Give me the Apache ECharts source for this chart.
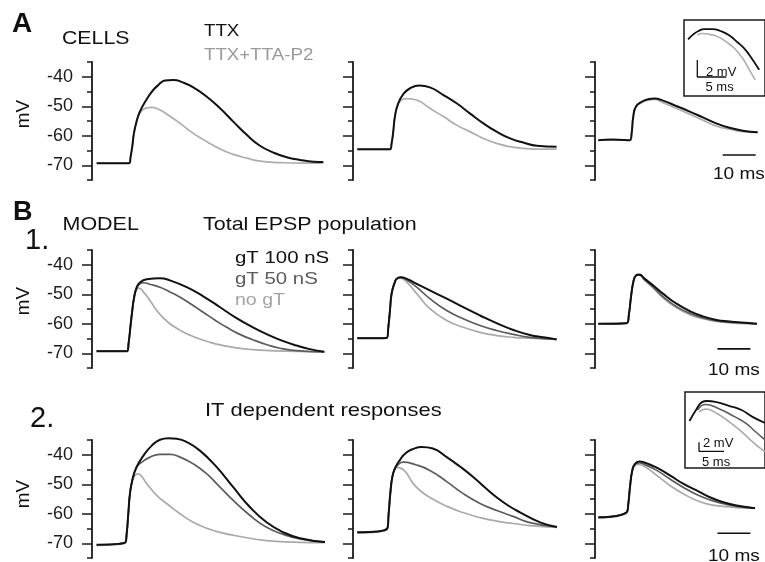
<!DOCTYPE html>
<html><head><meta charset="utf-8">
<script src="https://cdn.jsdelivr.net/npm/echarts@6/dist/echarts.min.js"></script>
<style>html,body{margin:0;padding:0;background:#fff}#c{width:765px;height:562px}</style>
</head><body><div id="c"></div>
<script>
// ---------- axis values ----------
const yMin = -75, yMax = -35, yStep = 5;
const majorTicks = [-70, -60, -50, -40];
const timeMax = [71, 62, 51];            // ms shown per column

// ---------- A: CELLS (t ms, mV) ----------
const cellsTTX_1 = [[1.4,-69.3],[11.3,-69.3],[11.7,-67.1],[12.2,-63.7],[12.7,-59.2],[13.5,-55.2],[14.5,-51.8],[16.1,-48.5],[18.1,-45.1],[20.1,-42.8],[22.1,-41.3],[24.6,-41.1],[27.7,-42.0],[30.7,-43.6],[34.8,-46.8],[38.8,-50.7],[42.8,-55.2],[46.9,-59.7],[50.9,-63.4],[55.0,-65.7],[59.0,-67.3],[63.0,-68.2],[67.1,-68.8],[70.1,-68.9]];
const cellsTTA_1 = [[1.4,-69.3],[11.3,-69.3],[11.7,-67.1],[12.2,-63.7],[12.7,-59.2],[13.5,-55.2],[14.5,-52.4],[16.1,-50.7],[18.1,-50.4],[20.1,-51.0],[22.6,-52.6],[26.7,-55.8],[30.7,-59.2],[34.8,-62.0],[38.8,-64.5],[42.8,-66.3],[46.9,-67.6],[50.9,-68.6],[57.0,-69.1],[63.0,-69.3],[70.1,-69.3]];
const cellsTTX_2 = [[1.3,-64.6],[11.2,-64.6],[11.7,-62.6],[12.2,-58.6],[12.7,-53.5],[13.7,-49.0],[15.3,-45.8],[17.3,-43.9],[20.1,-43.0],[23.3,-43.6],[27.4,-46.2],[31.4,-49.0],[35.4,-52.4],[39.5,-55.8],[43.5,-58.6],[47.6,-60.9],[51.6,-62.3],[55.7,-63.4],[61.7,-63.7]];
const cellsTTA_2 = [[1.3,-64.6],[11.2,-64.6],[11.7,-62.6],[12.2,-58.6],[12.7,-53.5],[13.7,-49.3],[14.8,-47.8],[16.2,-47.4],[19.3,-47.9],[23.3,-50.7],[27.4,-53.5],[31.4,-56.4],[35.4,-58.6],[39.5,-60.9],[43.5,-62.6],[47.6,-63.7],[51.6,-64.3],[55.7,-64.5],[61.7,-64.5]];
const cellsTTX_3 = [[1.0,-61.5],[5.0,-61.3],[10.6,-61.5],[11.1,-59.2],[11.6,-53.5],[12.4,-50.1],[14.1,-48.5],[16.1,-47.6],[18.1,-47.4],[20.6,-48.1],[24.6,-49.9],[28.7,-51.8],[32.7,-53.8],[36.7,-55.8],[40.8,-57.3],[44.8,-58.3],[49.3,-58.8]];
const cellsTTA_3 = [[1.0,-61.5],[10.6,-61.5],[11.1,-59.2],[11.6,-53.5],[12.4,-50.3],[14.1,-48.8],[16.1,-47.9],[18.1,-47.7],[20.6,-48.8],[24.6,-50.7],[28.7,-52.7],[32.7,-54.7],[36.7,-56.7],[40.8,-57.8],[44.8,-58.6],[49.3,-58.9]];

// ---------- B1: Total EPSP population ----------
const totGT100_1 = [[1.4,-69.3],[10.6,-69.3],[11.1,-66.5],[11.6,-61.5],[12.1,-56.5],[12.7,-51.5],[13.5,-47.8],[14.6,-45.9],[16.6,-44.9],[20.6,-44.6],[23.6,-45.3],[28.7,-47.6],[33.7,-50.7],[38.8,-54.4],[43.8,-58.1],[48.9,-61.3],[53.9,-64.0],[58.0,-65.9],[62.0,-67.4],[66.0,-68.6],[70.4,-69.5]];
const totGT50_1 = [[1.4,-69.3],[10.6,-69.3],[11.1,-66.5],[11.6,-61.5],[12.1,-56.5],[12.7,-51.5],[13.5,-47.9],[14.6,-46.4],[15.6,-46.1],[17.6,-46.6],[20.6,-47.6],[23.6,-49.2],[26.7,-51.0],[30.2,-53.5],[33.7,-56.1],[37.3,-58.8],[40.8,-61.2],[44.8,-63.6],[48.9,-65.5],[53.0,-67.1],[57.0,-68.3],[63.0,-69.2],[70.4,-69.5]];
const totGT0_1 = [[1.4,-69.3],[10.6,-69.3],[11.1,-66.5],[11.6,-61.5],[12.1,-56.5],[12.7,-51.5],[13.3,-49.0],[14.0,-47.9],[14.8,-48.2],[15.7,-49.4],[16.6,-50.6],[18.1,-53.0],[19.6,-55.5],[21.6,-58.0],[23.6,-60.0],[26.2,-61.9],[28.7,-63.4],[32.2,-65.0],[35.8,-66.3],[39.8,-67.4],[43.8,-68.2],[48.9,-68.8],[53.9,-69.1],[62.0,-69.4],[70.4,-69.5]];
const totGT100_2 = [[1.3,-64.9],[10.2,-64.8],[10.7,-61.2],[11.2,-55.5],[11.7,-49.8],[12.5,-46.5],[13.2,-44.8],[14.4,-44.2],[16.3,-44.8],[19.3,-46.5],[23.3,-48.7],[28.4,-51.5],[33.4,-54.4],[38.5,-57.2],[43.5,-59.8],[48.6,-62.1],[53.6,-63.8],[57.7,-64.6],[61.7,-65.3]];
const totGT50_2 = [[1.3,-64.9],[10.2,-64.8],[10.7,-61.2],[11.2,-55.5],[11.7,-49.8],[12.5,-46.5],[13.2,-44.8],[14.4,-44.3],[16.3,-45.2],[19.3,-47.6],[23.3,-51.5],[28.4,-55.5],[33.4,-58.3],[38.5,-60.6],[43.5,-62.3],[48.6,-63.6],[53.6,-64.6],[61.7,-65.3]];
const totGT0_2 = [[1.3,-64.9],[10.2,-64.8],[10.7,-61.2],[11.2,-55.5],[11.7,-49.8],[12.5,-46.5],[13.2,-44.9],[14.4,-44.5],[16.3,-45.9],[19.3,-49.8],[23.3,-54.9],[28.4,-58.9],[33.4,-61.2],[38.5,-62.9],[43.5,-64.0],[48.6,-64.6],[53.6,-64.9],[61.7,-65.3]];
const totGT100_3 = [[1.0,-60.0],[9.6,-59.8],[10.3,-56.6],[10.9,-51.0],[11.6,-45.9],[12.4,-43.6],[13.4,-43.3],[15.1,-44.8],[17.6,-47.0],[20.6,-49.8],[24.7,-53.2],[28.7,-55.7],[32.7,-57.5],[36.8,-58.7],[40.8,-59.2],[44.8,-59.6],[49.1,-60.0]];
const totGT50_3 = [[1.0,-60.0],[9.6,-59.8],[10.3,-56.6],[10.9,-51.0],[11.6,-45.9],[12.4,-43.7],[13.4,-43.4],[15.1,-45.1],[17.6,-47.5],[20.6,-50.8],[24.7,-54.2],[28.7,-56.4],[32.7,-58.0],[36.8,-59.0],[40.8,-59.5],[49.1,-60.0]];
const totGT0_3 = [[1.0,-60.0],[9.6,-59.8],[10.3,-56.6],[10.9,-51.0],[11.6,-45.9],[12.4,-43.8],[13.4,-43.5],[15.1,-45.4],[17.6,-47.9],[20.6,-51.2],[24.7,-54.6],[28.7,-56.9],[32.7,-58.3],[36.8,-59.2],[40.8,-59.7],[49.1,-60.1]];

// ---------- B2: IT dependent responses ----------
const itGT100_1 = [[1.4,-70.5],[10.0,-69.8],[10.5,-66.8],[11.0,-60.0],[11.5,-53.2],[12.2,-48.7],[13.5,-44.2],[15.6,-40.3],[18.1,-36.9],[20.6,-34.9],[23.2,-34.4],[25.7,-34.6],[28.7,-35.7],[32.7,-38.6],[37.8,-44.2],[42.8,-51.0],[47.9,-57.8],[52.9,-62.9],[58.0,-66.3],[63.0,-68.3],[70.6,-69.6]];
const itGT50_1 = [[1.4,-70.5],[10.0,-69.8],[10.5,-66.8],[11.0,-60.0],[11.5,-53.2],[12.2,-48.7],[13.5,-44.2],[15.1,-42.5],[17.6,-40.8],[20.6,-39.9],[23.7,-39.9],[26.7,-40.8],[30.7,-43.1],[34.8,-46.5],[38.8,-51.0],[42.8,-55.5],[47.9,-60.6],[52.9,-64.6],[58.0,-67.0],[63.0,-68.5],[70.6,-69.6]];
const itGT0_1 = [[1.4,-70.7],[10.0,-70.0],[10.5,-66.8],[11.0,-60.0],[11.5,-53.2],[12.2,-49.0],[13.0,-47.0],[14.0,-46.5],[15.2,-47.6],[16.6,-49.8],[19.6,-53.8],[22.7,-56.6],[26.7,-60.0],[30.7,-62.9],[34.8,-64.9],[38.8,-66.3],[44.9,-67.7],[52.9,-69.1],[61.0,-69.6],[70.6,-69.8]];
const itGT100_2 = [[1.3,-66.3],[10.3,-65.1],[10.8,-60.0],[11.3,-53.2],[11.9,-47.6],[12.7,-44.6],[14.2,-41.8],[16.0,-39.4],[18.3,-38.0],[20.8,-37.4],[24.2,-37.9],[28.4,-40.8],[32.4,-44.0],[36.5,-47.6],[40.0,-51.1],[43.5,-54.4],[47.0,-57.2],[50.6,-59.5],[56.7,-62.9],[61.8,-64.5]];
const itGT50_2 = [[1.3,-66.3],[10.3,-65.1],[10.8,-60.0],[11.3,-53.2],[11.9,-47.6],[12.7,-44.8],[13.6,-43.4],[15.2,-42.5],[18.8,-43.3],[23.3,-45.3],[28.4,-49.1],[33.3,-53.1],[38.5,-56.5],[43.6,-58.9],[48.5,-60.9],[53.6,-63.0],[61.8,-64.5]];
const itGT0_2 = [[1.3,-66.5],[10.3,-65.3],[10.8,-60.0],[11.3,-53.2],[11.9,-47.8],[12.6,-45.0],[13.3,-44.3],[15.5,-45.3],[18.2,-49.7],[20.3,-52.1],[23.3,-54.5],[28.5,-57.5],[33.3,-59.6],[38.5,-61.3],[43.6,-62.5],[48.5,-63.3],[53.6,-64.0],[61.8,-64.6]];
const itGT100_3 = [[1.0,-61.2],[9.6,-59.5],[10.1,-56.6],[10.6,-51.0],[11.3,-45.3],[12.1,-43.1],[13.4,-42.3],[15.6,-42.9],[18.7,-44.4],[22.7,-47.0],[26.7,-49.8],[30.8,-52.1],[34.8,-54.4],[38.9,-56.1],[42.9,-57.2],[48.5,-58.1]];
const itGT50_3 = [[1.0,-61.2],[9.6,-59.5],[10.1,-56.6],[10.6,-51.0],[11.3,-45.3],[12.1,-43.3],[13.4,-42.8],[15.6,-43.6],[18.7,-45.3],[22.7,-48.2],[26.7,-51.0],[30.8,-53.5],[34.8,-55.3],[38.9,-56.6],[42.9,-57.5],[48.5,-58.1]];
const itGT0_3 = [[1.0,-61.4],[9.6,-59.7],[10.1,-56.6],[10.6,-51.0],[11.3,-45.6],[12.1,-43.6],[13.1,-43.3],[15.6,-44.4],[18.7,-47.0],[22.7,-50.4],[26.7,-53.2],[30.8,-55.5],[34.8,-56.9],[38.9,-57.5],[42.9,-57.9],[48.5,-58.1]];

// ---------- insets (zoomed peaks) ----------
const insetA_TTX = [[0.7,-48.3],[1.6,-47.7],[2.5,-47.3],[3.5,-47.07],[4.9,-47.07],[6.3,-47.3],[7.8,-47.8],[9.2,-48.6],[10.4,-49.35],[11.3,-50.15],[13.0,-51.9]];
const insetA_TTA = [[2.3,-47.8],[3.0,-47.6],[4.4,-47.7],[5.9,-48.0],[7.3,-48.6],[8.7,-49.35],[10.1,-50.5],[11.3,-51.9],[12.3,-53.1]];
const insetB_100 = [[0.9,-44.3],[2.2,-41.9],[3.4,-40.2],[4.4,-39.95],[6.3,-40.2],[8.8,-41.0],[11.3,-41.9],[13.5,-43.4],[16.0,-44.7]];
const insetB_50 = [[2.5,-41.9],[4.1,-40.7],[6.9,-41.7],[10.0,-43.4],[12.2,-44.8],[13.7,-46.25],[16.0,-48.4]];
const insetB_0 = [[2.8,-42.3],[4.1,-41.7],[6.3,-42.6],[8.8,-44.45],[11.3,-46.6],[13.5,-48.8],[14.9,-50.1],[16.0,-51.0]];

// ---------- scale bars (data units) ----------
const bar10ms_A = [[38.7,-66.5],[48.7,-66.5]];
const bar10ms_B1 = [[37.1,-68.5],[47.1,-68.5]];
const bar10ms_B2 = [[37.1,-66.6],[47.1,-66.6]];
const barInsetA = [[2.3,-50.75],[2.3,-52.75],[7.3,-52.75]];
const barInsetB = [[2.8,-48.9],[2.8,-50.9],[7.8,-50.9]];

// ---------- styling / layout ----------
const BLACK = '#111111', DARK = '#5c5c5c', LIGHT = '#aaaaaa', GRAYA = '#adadad';
const FONT = '"Liberation Sans", Arial, sans-serif';
const gridLeft = [92, 353, 595], gridTop = [62, 250, 440], gridH = 118, pxPerMs = 3.3;

const panels = [
  [[[cellsTTA_1,GRAYA],[cellsTTX_1,BLACK]], [[cellsTTA_2,GRAYA],[cellsTTX_2,BLACK]], [[cellsTTA_3,GRAYA],[cellsTTX_3,BLACK]]],
  [[[totGT0_1,LIGHT],[totGT50_1,DARK],[totGT100_1,BLACK]], [[totGT0_2,LIGHT],[totGT50_2,DARK],[totGT100_2,BLACK]], [[totGT0_3,LIGHT],[totGT50_3,DARK],[totGT100_3,BLACK]]],
  [[[itGT0_1,LIGHT],[itGT50_1,DARK],[itGT100_1,BLACK]], [[itGT0_2,LIGHT],[itGT50_2,DARK],[itGT100_2,BLACK]], [[itGT0_3,LIGHT],[itGT50_3,DARK],[itGT100_3,BLACK]]]
];
const bars10 = [bar10ms_A, bar10ms_B1, bar10ms_B2];

const grid = [], xAxis = [], yAxis = [], series = [];
for (let r = 0; r < 3; r++) {
  for (let c = 0; c < 3; c++) {
    const g = grid.length;
    grid.push({left: gridLeft[c], top: gridTop[r], width: timeMax[c] * pxPerMs, height: gridH, containLabel: false});
    xAxis.push({gridIndex: g, type: 'value', min: 0, max: timeMax[c], show: false});
    const yi = yAxis.length;
    yAxis.push({gridIndex: g, type: 'value', position: 'left', min: yMin, max: yMax, interval: yStep,
      axisLine: {show: true, lineStyle: {color: '#1a1a1a', width: 1.8}},
      axisTick: {show: true, length: 5, lineStyle: {color: '#1a1a1a', width: 1.5}},
      axisLabel: {show: false}, splitLine: {show: false}});
    yAxis.push({gridIndex: g, type: 'value', position: 'left', min: yMin, max: yMax,
      axisLine: {show: false},
      axisTick: {show: true, length: 10, customValues: majorTicks, lineStyle: {color: '#1a1a1a', width: 1.5}},
      axisLabel: {show: c === 0, customValues: majorTicks, margin: 19, fontSize: 18, fontFamily: FONT, color: '#1a1a1a'},
      splitLine: {show: false}});
    panels[r][c].forEach(([d, col]) => {
      series.push({type: 'line', xAxisIndex: g, yAxisIndex: yi, data: d, symbol: 'none', smooth: 0.5,
        clip: false, silent: true, lineStyle: {color: col, width: col === BLACK ? 2 : 1.7}});
    });
    if (c === 2) {
      series.push({type: 'line', xAxisIndex: g, yAxisIndex: yi, data: bars10[r], symbol: 'none',
        silent: true, lineStyle: {color: BLACK, width: 1.6}});
    }
  }
}

// insets
const insets = [
  {left: 684, top: 20, width: 98, height: 76, xMax: 14, yMin: -55, yMax: -46,
   traces: [[insetA_TTA, GRAYA], [insetA_TTX, BLACK]], bar: barInsetA},
  {left: 685, top: 392, width: 85, height: 76, xMax: 16, yMin: -54.5, yMax: -38,
   traces: [[insetB_0, LIGHT], [insetB_50, DARK], [insetB_100, BLACK]], bar: barInsetB}
];
insets.forEach(ins => {
  const g = grid.length;
  grid.push({left: ins.left, top: ins.top, width: ins.width, height: ins.height, show: true,
    borderColor: '#1a1a1a', borderWidth: 1.5, backgroundColor: 'transparent'});
  xAxis.push({gridIndex: g, type: 'value', min: 0, max: ins.xMax, show: false});
  const yi = yAxis.length;
  yAxis.push({gridIndex: g, type: 'value', min: ins.yMin, max: ins.yMax, show: false});
  ins.traces.forEach(([d, col]) => {
    series.push({type: 'line', xAxisIndex: g, yAxisIndex: yi, data: d, symbol: 'none', smooth: 0.5,
      silent: true, lineStyle: {color: col, width: col === BLACK ? 1.8 : 1.6}});
  });
  series.push({type: 'line', xAxisIndex: g, yAxisIndex: yi, data: ins.bar, symbol: 'none',
    silent: true, lineStyle: {color: BLACK, width: 1.3}});
});

function txt(text, x, y, size, opts = {}) {
  return {type: 'text', x, y, scaleX: opts.sx || 1, rotation: opts.rot || 0, silent: true,
    style: {text, fill: opts.fill || BLACK, fontSize: size, fontFamily: FONT,
      fontWeight: opts.bold ? 'bold' : 'normal', textAlign: opts.align || 'left', textVerticalAlign: 'middle'}};
}
const graphic = [
  txt('A', 12, 24, 28, {bold: true}),
  txt('CELLS', 62, 38.5, 19, {sx: 1.12}),
  txt('TTX', 204, 32, 16, {sx: 1.17}),
  txt('TTX+TTA-P2', 204, 56, 16, {sx: 1.17, fill: '#9a9a9a'}),
  txt('B', 13, 213, 27, {bold: true}),
  txt('MODEL', 62.5, 225, 19, {sx: 1.13}),
  txt('Total EPSP population', 203, 225, 19, {sx: 1.13}),
  txt('1.', 25, 241, 29),
  txt('gT 100 nS', 235, 258, 17, {sx: 1.2}),
  txt('gT 50 nS', 235, 279, 17, {sx: 1.2, fill: DARK}),
  txt('no gT', 235, 300, 17, {sx: 1.15, fill: '#a4a4a4'}),
  txt('2.', 30, 419, 29),
  txt('IT dependent responses', 205, 411, 19, {sx: 1.155}),
  txt('mV', 24, 114, 18, {sx: 1.05, rot: Math.PI / 2, align: 'center'}),
  txt('mV', 24, 301, 18, {sx: 1.05, rot: Math.PI / 2, align: 'center'}),
  txt('mV', 24, 494, 18, {sx: 1.05, rot: Math.PI / 2, align: 'center'}),
  txt('10 ms', 713, 174, 17, {sx: 1.12}),
  txt('10 ms', 708, 370, 17, {sx: 1.12}),
  txt('10 ms', 708, 556, 17, {sx: 1.12}),
  txt('2 mV', 706, 72, 13),
  txt('5 ms', 705.5, 87.5, 13),
  txt('2 mV', 703, 443, 13),
  txt('5 ms', 702, 462, 13)
];

const chart = echarts.init(document.getElementById('c'), null, {renderer: 'canvas'});
chart.setOption({animation: false, backgroundColor: '#fff', grid, xAxis, yAxis, series, graphic});
</script>
</body></html>
